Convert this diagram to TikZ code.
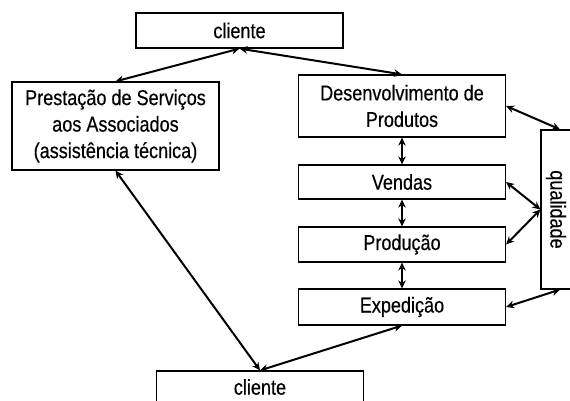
\documentclass[tikz,border=0pt]{standalone}
\usepackage{fontspec}
\setmainfont{Liberation Sans}[FakeStretch=0.84,FakeBold=0.4]
\usetikzlibrary{arrows.meta}
\begin{document}
\begin{tikzpicture}[x=1pt,y=-1pt,
  box/.style={draw=black,line width=1.2pt,minimum width=207pt,inner sep=0pt,align=center,font=\fontsize{21.5}{26.5}\selectfont},
  lbl/.style={inner sep=0pt,font=\fontsize{21.5}{26.5}\selectfont},
  link/.style={line width=2pt,{Stealth[length=8pt,width=7.5pt]}-{Stealth[length=8pt,width=7.5pt]}}]
\useasboundingbox (0,0) rectangle (570,401);
\clip (0,0) rectangle (570,401);
\node[box,minimum height=35pt] (tc) at (239.5,30.5) {cliente};
\node[box,minimum height=88pt] (ps) at (115.5,126) {Presta\c{c}\~ao de Servi\c{c}os\\aos Associados\\(assist\^encia t\'ecnica)};
\node[box,minimum height=62pt] (d) at (402,106) {Desenvolvimento de\\Produtos};
\node[box,minimum height=34pt] (v) at (402,182) {Vendas};
\node[box,minimum height=35pt] (p) at (402,244.5) {Produ\c{c}\~ao};
\node[box,minimum height=36pt] (e) at (402,307) {Expedi\c{c}\~ao};
\node[box,minimum height=35pt] (bc) at (260,388.5) {};
\node[lbl] (bct) at (260,387) {cliente};
\node[draw=black,line width=1.2pt,minimum width=38pt,minimum height=159pt,inner sep=0pt] (q) at (560,209.5) {};
\node[lbl,rotate=-90] (ql) at (556,209.5) {qualidade};
\draw[link] (tc.south) -- (ps.north);
\draw[link] (tc.south) -- (d.north);
\draw[link] (ps.south) -- (bc.north);
\draw[link] (e.south) -- (bc.north);
\draw[link] (d.south) -- (v.north);
\draw[link] (v.south) -- (p.north);
\draw[link] (p.south) -- (e.north);
\draw[link] (d.east) -- (q.north);
\draw[link] (v.east) -- (q.west);
\draw[link] (p.east) -- (q.west);
\draw[link] (e.east) -- (q.south);
\end{tikzpicture}
\end{document}
